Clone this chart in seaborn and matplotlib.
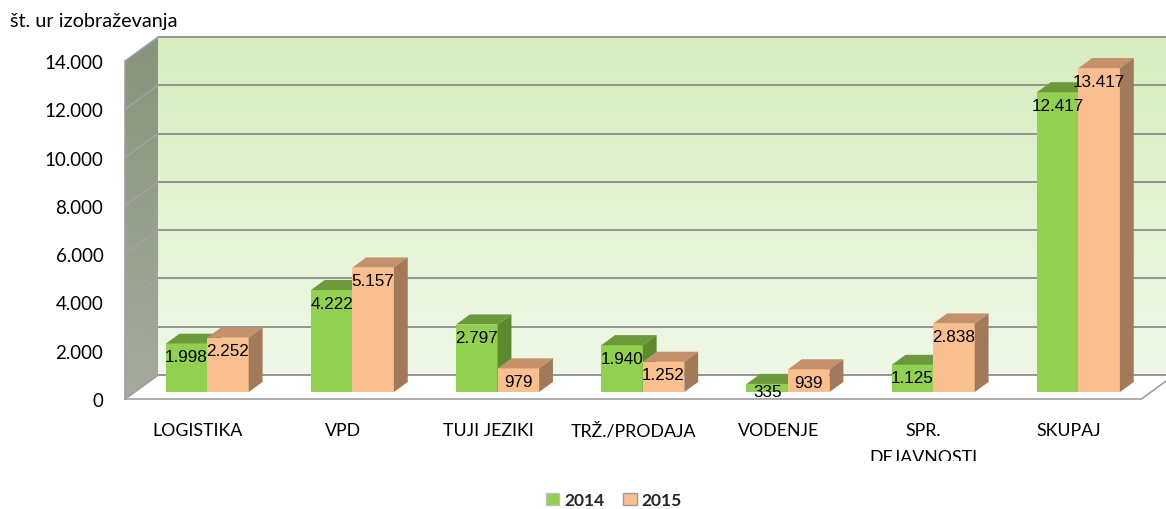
import numpy as np
import pandas as pd
import matplotlib
matplotlib.use("Agg")
import matplotlib.pyplot as plt
import matplotlib.transforms as mtransforms
from matplotlib.patches import Polygon, Patch
from matplotlib.colors import to_rgb
import seaborn as sns

# ---------------- data ----------------
categories = ["LOGISTIKA", "VPD", "TUJI JEZIKI", "TRŽ./PRODAJA", "VODENJE",
              "SPR.\nDEJAVNOSTI", "SKUPAJ"]
years = ["2014", "2015"]
values_2014 = [1998, 4222, 2797, 1940, 335, 1125, 12417]
values_2015 = [2252, 5157, 979, 1252, 939, 2838, 13417]
y_ticks = [0, 2000, 4000, 6000, 8000, 10000, 12000, 14000]
y_title = "št. ur izobraževanja"

df = pd.DataFrame({
    "cat": categories * 2,
    "year": [years[0]] * len(categories) + [years[1]] * len(categories),
    "val": values_2014 + values_2015,
})

def fmt(v):
    return f"{v:,}".replace(",", ".")

# ---------------- style ----------------
sns.set_style("white")
plt.rcParams["font.family"] = ["Lato", "DejaVu Sans"]

GREEN = "#92d050"
GREEN_TOP = "#6b9a3a"
GREEN_SIDE = "#5c8a2f"
ORANGE = "#fabf8f"
ORANGE_TOP = "#c4916b"
ORANGE_SIDE = "#a27a5a"
GRID = "#8c8c8c"

W, H, DPI = 1166, 510, 100
fig = plt.figure(figsize=(W / DPI, H / DPI), dpi=DPI)
fig.patch.set_facecolor("white")

# geometry of the pseudo-3D box (pixels)
FX0, FY0 = 125.0, 400.0        # front plane: left edge, y of zero
UX = 145.2                     # px per category
HY = 338.0                     # px for full y range
YMAX = 14000
DEPX, DEPY = 33.0, 24.0        # depth vector (right, up)
BAR_F, BAR_B = 0.29, 0.71      # bar front/back depth fractions
n = len(categories)

def rect(f):
    left = FX0 + DEPX * f
    bottom = FY0 - DEPY * f
    return [left / W, (H - bottom) / H, n * UX / W, HY / H]

def grad(c_top, c_bot, steps=256):
    a, b = np.array(to_rgb(c_top)), np.array(to_rgb(c_bot))
    t = np.linspace(0, 1, steps)[:, None]
    return (b * (1 - t) + a * t)[:, None, :]   # origin lower: row 0 = bottom

# ---- back wall ----
ax_back = fig.add_axes(rect(1.0), zorder=0)
ax_back.set_xlim(-0.5, n - 0.5)
ax_back.set_ylim(0, YMAX)
ax_back.imshow(grad("#d6edbf", "#eff8e8"), extent=(-0.5, n - 0.5, 0, YMAX),
               aspect="auto", origin="lower", zorder=0)
for v in y_ticks:
    ax_back.axhline(v, color=GRID, lw=1.3, zorder=1, clip_on=False)
ax_back.axis("off")

# ---- left wall ----
ax_left = fig.add_axes([FX0 / W, (H - FY0) / H, DEPX / W, (HY + DEPY) / H], zorder=1)
ax_left.set_xlim(0, 1)
ax_left.set_ylim(0, 1)
tot = HY + DEPY
wall = Polygon([(0, 0), (0, HY / tot), (1, 1), (1, DEPY / tot)], closed=True,
               facecolor="none", edgecolor="none", transform=ax_left.transAxes)
ax_left.add_patch(wall)
im = ax_left.imshow(grad("#86947a", "#a7ab9f"), extent=(0, 1, 0, 1),
                    aspect="auto", origin="lower", transform=ax_left.transAxes)
im.set_clip_path(wall)
for v in y_ticks:
    y0 = HY * v / YMAX / tot
    y1 = (DEPY + HY * v / YMAX) / tot
    ax_left.plot([0, 1], [y0, y1], color="#a3a3a3", lw=1.1, clip_on=False)
ax_left.axis("off")

# ---- front plane: axes, ticks, labels ----
ax_front = fig.add_axes(rect(0.0), zorder=2)
ax_front.patch.set_alpha(0)
ax_front.set_xlim(-0.5, n - 0.5)
ax_front.set_ylim(0, YMAX)
for s in ["top", "right"]:
    ax_front.spines[s].set_visible(False)
for s in ["left", "bottom"]:
    ax_front.spines[s].set_color("#a0a0a0")
    ax_front.spines[s].set_linewidth(1.2)
ax_front.set_yticks(y_ticks)
ax_front.set_yticklabels([fmt(v) for v in y_ticks])
ax_front.tick_params(axis="y", direction="out", length=4.5, width=1.1,
                     color="#a0a0a0", pad=11, labelsize=13.5, labelcolor="black")
ax_front.set_xticks(range(n))
ax_front.set_xticklabels(categories)
ax_front.set_xticks(np.arange(-0.5, n, 1.0), minor=True)
ax_front.tick_params(axis="x", which="major", length=0, pad=16.5,
                     labelsize=12.8, labelcolor="black")
ax_front.tick_params(axis="x", which="minor", direction="out", length=4.5,
                     width=1.1, color="#a0a0a0")
for lab in ax_front.get_xticklabels():
    lab.set_linespacing(1.85)
    lab.set_clip_box(mtransforms.Bbox.from_extents(0, H - 462, W, H))
    lab.set_clip_on(True)

# floor edges (front -> back)
ddx, ddy = DEPX / UX, DEPY / HY * YMAX
for xe in (-0.5, n - 0.5):
    ax_front.plot([xe, xe + ddx], [0, ddy], color="#a0a0a0", lw=1.2, clip_on=False)

# ---- bar plane ----
ax = fig.add_axes(rect(BAR_F), zorder=3)
ax.patch.set_alpha(0)
sns.barplot(data=df, x="cat", y="val", hue="year", palette=[GREEN, ORANGE],
            width=0.572, saturation=1, linewidth=0, legend=False, ax=ax)
ax.set_xlim(-0.5, n - 0.5)
ax.set_ylim(0, YMAX)
ax.axis("off")

bdx = (BAR_B - BAR_F) * DEPX / UX
bdy = (BAR_B - BAR_F) * DEPY / HY * YMAX
tops = [GREEN_TOP, ORANGE_TOP]
sides = [GREEN_SIDE, ORANGE_SIDE]
px_per_val = HY / YMAX
for h, cont in enumerate(ax.containers):
    for bar in cont:
        x0, w, ht = bar.get_x(), bar.get_width(), bar.get_height()
        z = 3 + 2 * h
        bar.set_zorder(z)
        ax.add_patch(Polygon([(x0, ht), (x0 + w, ht), (x0 + w + bdx, ht + bdy),
                              (x0 + bdx, ht + bdy)], closed=True, facecolor=tops[h],
                             edgecolor="none", zorder=z + 0.5, clip_on=False))
        ax.add_patch(Polygon([(x0 + w, 0), (x0 + w, ht), (x0 + w + bdx, ht + bdy),
                              (x0 + w + bdx, bdy)], closed=True, facecolor=sides[h],
                             edgecolor="none", zorder=z + 0.5, clip_on=False))
        off_px = min(13.0, ht * px_per_val / 2 + 4)
        tr = ax.transData + mtransforms.ScaledTranslation(0, -off_px / DPI,
                                                          fig.dpi_scale_trans)
        ax.text(x0 + w / 2, ht, fmt(int(round(ht))), transform=tr, ha="center",
                va="center", fontsize=12.3, family=["Liberation Sans", "DejaVu Sans"],
                color="black", zorder=20, clip_on=False)

# ---- title ----
fig.text(10 / W, 1 - 21 / H, y_title, fontsize=14.3, ha="left", va="center",
         color="black")

# ---- legend ----
handles = [Patch(facecolor=GREEN, edgecolor="#bfbfbf"),
           Patch(facecolor=ORANGE, edgecolor="#9a9a9a")]
fig.legend(handles, years, loc="upper center",
           bbox_to_anchor=(614 / W, 1 - 493 / H), ncol=2, frameon=False,
           prop={"family": ["Lato", "DejaVu Sans"], "weight": "bold", "size": 12.5},
           handlelength=0.75, handleheight=0.75, handletextpad=0.3,
           columnspacing=1.1, borderpad=0, borderaxespad=0)

fig.savefig("out.png", dpi=DPI, facecolor="white")
